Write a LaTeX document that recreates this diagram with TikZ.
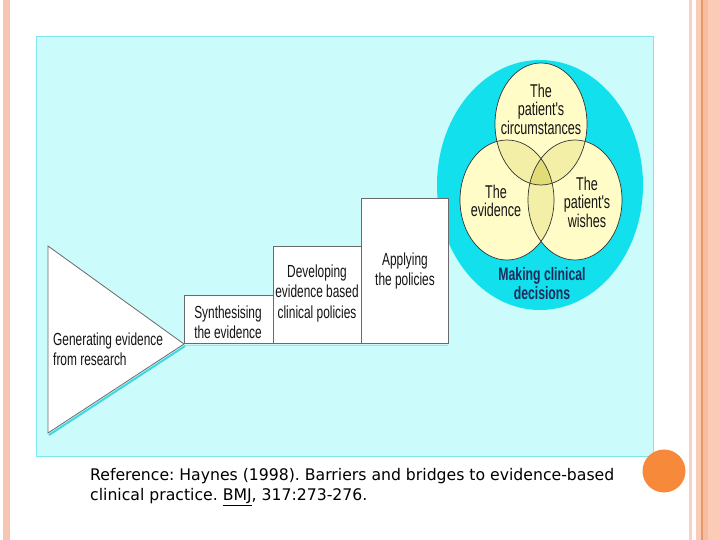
\documentclass[tikz,border=0pt]{standalone}
\usepackage{fontspec}
\setmainfont{DejaVu Sans}
\newfontfamily\condf[FakeStretch=0.68]{Liberation Sans}
\newfontfamily\capf[FakeStretch=0.98]{DejaVu Sans}
\definecolor{panelfill}{HTML}{CBFBFB}
\definecolor{panelline}{HTML}{7FE6EC}
\definecolor{bigcyan}{HTML}{12E0EC}
\definecolor{venn}{HTML}{FFFCC8}
\definecolor{venntwo}{HTML}{F4EFA6}
\definecolor{vennthree}{HTML}{E2DC78}
\definecolor{navy}{HTML}{1C2C5C}
\definecolor{salmon}{HTML}{F6C6B2}
\definecolor{peach}{HTML}{FBCBB5}
\definecolor{peachdark}{HTML}{F7BDA0}
\definecolor{peachline}{HTML}{E39868}
\definecolor{dotorange}{HTML}{F68A3A}
\definecolor{boxline}{HTML}{6A6A6A}
\definecolor{shadowcyan}{HTML}{3FD8E2}
\frenchspacing
\begin{document}
\begin{tikzpicture}[x=1pt,y=-1pt,
  lab/.style={font=\condf\fontsize{17.5}{20.5}\selectfont, align=center, text=black!92, inner sep=0pt},
  vlab/.style={font=\condf\fontsize{18.5}{18.5}\selectfont, align=center, text=black!92, inner sep=0pt},
  stepbox/.style={draw=boxline, line width=0.8pt, fill=white, rectangle, inner sep=0pt, anchor=south west},
  vennline/.style={draw=black!80, line width=0.7pt}]
\useasboundingbox (0,0) rectangle (720,540);
\fill[white] (0,0) rectangle (720,540);
% side decorations
\fill[salmon] (3,0) rectangle (9.5,540);
\fill[salmon!80] (689,0) rectangle (692,540);
\fill[peach] (696,0) rectangle (720,540);
\fill[peachdark] (703,0) rectangle (708,540);
\draw[peachline, line width=1.2pt] (702,0) -- (702,540);
% panel
\node[draw=panelline, fill=panelfill, line width=0.8pt, rectangle, minimum width=617pt, minimum height=420pt, inner sep=0pt, anchor=north west] (panel) at (36,36) {};
% big ellipse
\fill[bigcyan] (540,185) ellipse [x radius=103, y radius=125];
% venn
\coordinate (ctop) at (541,124);
\coordinate (cleft) at (507,200);
\coordinate (cright) at (575,200);
\fill[venn] (ctop) ellipse [x radius=46, y radius=61];
\fill[venn] (cleft) ellipse [x radius=47, y radius=60];
\fill[venn] (cright) ellipse [x radius=47, y radius=60];
\begin{scope}
  \clip (ctop) ellipse [x radius=46, y radius=61];
  \fill[venntwo] (cleft) ellipse [x radius=47, y radius=60];
  \fill[venntwo] (cright) ellipse [x radius=47, y radius=60];
\end{scope}
\begin{scope}
  \clip (cleft) ellipse [x radius=47, y radius=60];
  \fill[venntwo] (cright) ellipse [x radius=47, y radius=60];
  \clip (cright) ellipse [x radius=47, y radius=60];
  \fill[vennthree] (ctop) ellipse [x radius=46, y radius=61];
\end{scope}
\draw[vennline] (ctop) ellipse [x radius=46, y radius=61];
\draw[vennline] (cleft) ellipse [x radius=47, y radius=60];
\draw[vennline] (cright) ellipse [x radius=47, y radius=60];
\node[vlab] (circ) at (541,109) {The\\patient's\\circumstances};
\node[vlab] (evid) at (496,201) {The\\evidence};
\node[vlab] (wish) at (587,202) {The\\patient's\\wishes};
\node[font=\condf\bfseries\fontsize{18}{19}\selectfont, align=center, text=navy, inner sep=0pt] (making) at (542,284) {Making clinical\\decisions};
% process steps
\node[stepbox, minimum width=89pt, minimum height=48pt] (synbox) at (184,344) {};
\node[stepbox, minimum width=88pt, minimum height=97pt] (devbox) at (273,344) {};
\node[stepbox, minimum width=87pt, minimum height=145pt] (appbox) at (361,344) {};
\coordinate (ttop) at (48,246);
\coordinate (tbot) at (48,433);
\coordinate (ttip) at (184,344);
\draw[shadowcyan, line width=2pt] (49,435) -- (185,346);
\draw[shadowcyan!60, line width=0.8pt] (185,345.3) -- (448,345.3);
\filldraw[fill=white, draw=boxline, line width=0.8pt] (ttop) -- (ttip) -- (tbot) -- cycle;
\node[lab, align=left, anchor=west] (gen) at (53,349) {Generating evidence\\from research};
\node[lab] (syn) at (228,322) {Synthesising\\the evidence};
\node[lab] (dev) at (317,293) {Developing\\evidence based\\clinical policies};
\node[lab] (app) at (405,271) {Applying\\the policies};
% caption
\node[font=\capf\fontsize{16}{20}\selectfont, align=left, anchor=north west, inner sep=0pt, text=black] (cap) at (90,468) {Reference: Haynes (1998). Barriers and bridges to evidence-based\\clinical practice. \underline{BMJ}, 317:273-276.};
% orange dot
\fill[dotorange] (664,471) circle [radius=21.5];
\end{tikzpicture}
\end{document}
